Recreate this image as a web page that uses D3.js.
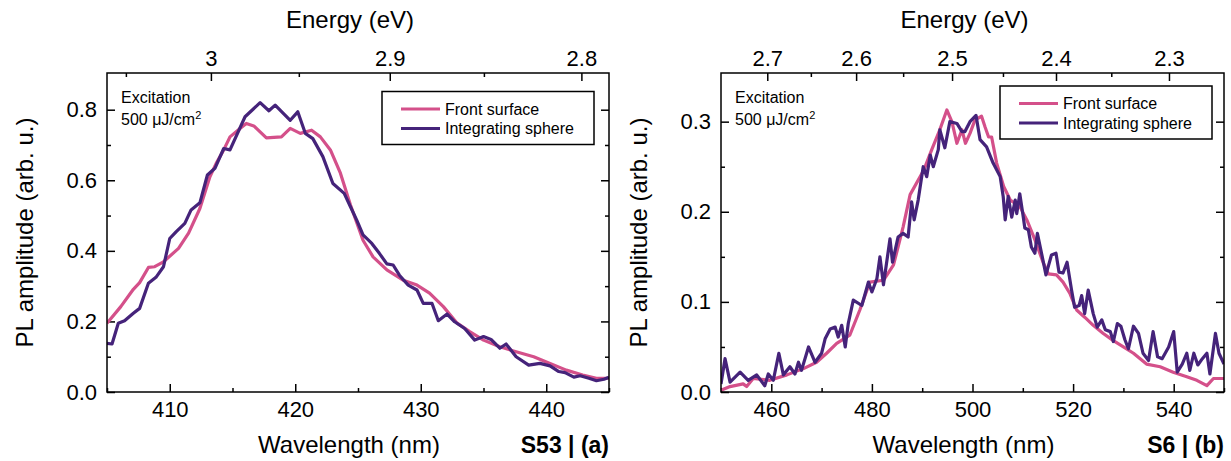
<!DOCTYPE html>
<html>
<head>
<meta charset="utf-8">
<script src="https://cdn.jsdelivr.net/npm/d3@7"></script>
<style>
  body { margin: 0; background: #fff; }
  svg { font-family: "Liberation Sans", Arial, sans-serif; }
  .axis path { display: none; }
  .axis line { stroke: #000; stroke-width: 1.5; }
  .axis text { font-size: 22px; fill: #000; }
</style>
</head>
<body>
<div id="plot_area"></div>
<script>
// ---- panel (a) : S53 ----
const aFrontX = [405, 406.1, 407.1, 407.6, 408.3, 408.8, 409.5, 410.7, 411.5, 412.4, 413.2, 413.7, 414.3, 414.8, 415.6, 416.1, 416.7, 417.7, 418.9, 419.6, 420.4, 421.3, 422, 422.8, 423.6, 424.4, 425.4, 426.2, 427.3, 428.6, 429.7, 430.7, 431.8, 432.9, 433.9, 435, 436.3, 437.6, 439, 440.3, 441.6, 442.9, 444, 445]
const aFrontY = [0.195, 0.242, 0.291, 0.31, 0.353, 0.355, 0.369, 0.407, 0.45, 0.52, 0.61, 0.648, 0.686, 0.723, 0.747, 0.761, 0.754, 0.72, 0.723, 0.747, 0.733, 0.742, 0.723, 0.686, 0.62, 0.53, 0.43, 0.383, 0.346, 0.317, 0.303, 0.28, 0.242, 0.195, 0.171, 0.147, 0.128, 0.114, 0.1, 0.081, 0.062, 0.048, 0.039, 0.039]
const aSphereX = [405, 405.4, 405.9, 406.4, 407.1, 407.6, 408.3, 408.9, 409.5, 410, 410.5, 411.2, 411.7, 412.4, 413, 413.6, 414.3, 414.8, 416, 417.2, 417.9, 418.4, 419.6, 420.2, 420.8, 421.4, 422.2, 423, 423.9, 424.4, 424.9, 425.4, 426.1, 426.7, 427.3, 427.8, 428.3, 429, 429.7, 430.2, 430.9, 431.4, 432.1, 432.7, 433.5, 434.3, 435, 435.6, 436.3, 436.8, 437.6, 438.6, 439.5, 440.3, 441, 441.5, 442.2, 442.7, 443.4, 444, 444.6, 445]
const aSphereY = [0.138, 0.136, 0.195, 0.202, 0.223, 0.237, 0.308, 0.325, 0.355, 0.435, 0.454, 0.478, 0.516, 0.536, 0.615, 0.634, 0.69, 0.686, 0.78, 0.82, 0.797, 0.813, 0.77, 0.794, 0.733, 0.718, 0.667, 0.591, 0.563, 0.525, 0.487, 0.445, 0.421, 0.393, 0.363, 0.36, 0.331, 0.303, 0.289, 0.251, 0.251, 0.202, 0.221, 0.199, 0.18, 0.147, 0.157, 0.149, 0.124, 0.136, 0.1, 0.076, 0.081, 0.074, 0.058, 0.055, 0.042, 0.046, 0.039, 0.032, 0.036, 0.042]
const aXTicks = [410, 420, 430, 440]
const aXMinor = [405, 415, 425, 435, 445]
const aYTicks = [0, 0.2, 0.4, 0.6, 0.8]
const aYMinor = [0.1, 0.3, 0.5, 0.7]
const aETicks = [3, 2.9, 2.8]
const aEMinor = [3.05, 2.95, 2.85]

// ---- panel (b) : S6 ----
const bFrontX = [450, 451.8, 454.4, 455.1, 456.4, 459.7, 463.1, 466.4, 469, 471, 473, 475.6, 477.6, 479.6, 482.3, 484.3, 486.2, 487.6, 490.3, 491.9, 493.5, 494.9, 495.9, 496.9, 497.9, 498.6, 499.5, 500.5, 501.8, 502.5, 503.2, 503.8, 504.8, 506.2, 507.5, 509.4, 510.8, 512.4, 514.1, 515.1, 516.7, 518, 519.4, 520.7, 522.3, 524, 526, 528, 530, 532, 534.6, 537.3, 539.9, 542.6, 544.6, 546.6, 547.9, 550]
const bFrontY = [0.002, 0.006, 0.009, 0.006, 0.015, 0.013, 0.019, 0.026, 0.033, 0.043, 0.054, 0.063, 0.091, 0.122, 0.124, 0.141, 0.183, 0.219, 0.246, 0.269, 0.291, 0.313, 0.3, 0.276, 0.291, 0.276, 0.287, 0.302, 0.306, 0.294, 0.283, 0.283, 0.254, 0.228, 0.213, 0.206, 0.191, 0.169, 0.143, 0.131, 0.13, 0.122, 0.109, 0.091, 0.083, 0.074, 0.065, 0.057, 0.05, 0.043, 0.031, 0.028, 0.022, 0.017, 0.013, 0.007, 0.015, 0.015]
const bSphereX = [450, 450.8, 451.8, 453.8, 455.4, 457.1, 458.7, 459.4, 460.4, 461.5, 462.4, 463.7, 464.7, 465.4, 466, 467.4, 468.7, 470, 470.7, 471.7, 472.7, 473.3, 474, 474.7, 475.3, 476.3, 478, 479.3, 480, 481, 481.6, 482.3, 483.6, 484.1, 485.2, 486.2, 487.2, 487.9, 488.4, 489.2, 490.2, 490.9, 491.6, 492.2, 493.2, 493.5, 494.5, 495.5, 496.9, 497.9, 498.5, 499.5, 500.7, 501.5, 502.8, 504.1, 505.5, 506.1, 506.5, 507.1, 507.8, 508.5, 508.8, 509.4, 510.1, 510.4, 511.1, 511.7, 512.4, 512.9, 513.8, 514.6, 515.7, 516.6, 517.2, 518, 518.8, 519.7, 520.3, 521.2, 521.7, 522.3, 523, 524, 524.8, 525.7, 526.4, 527.4, 528, 528.8, 529.5, 530.3, 531, 532, 533, 533.9, 535, 535.9, 536.8, 537.7, 539, 540, 540.7, 541.7, 542.6, 543.2, 544, 544.8, 545.7, 546.6, 547.2, 548.3, 549, 550]
const bSphereY = [0.009, 0.037, 0.011, 0.022, 0.013, 0.019, 0.007, 0.02, 0.013, 0.043, 0.019, 0.028, 0.02, 0.033, 0.024, 0.05, 0.033, 0.043, 0.059, 0.07, 0.072, 0.061, 0.074, 0.05, 0.076, 0.102, 0.096, 0.122, 0.111, 0.126, 0.15, 0.119, 0.17, 0.144, 0.172, 0.176, 0.172, 0.211, 0.191, 0.213, 0.25, 0.239, 0.263, 0.25, 0.269, 0.291, 0.271, 0.3, 0.298, 0.289, 0.289, 0.3, 0.307, 0.28, 0.272, 0.254, 0.239, 0.217, 0.191, 0.217, 0.194, 0.213, 0.198, 0.22, 0.194, 0.182, 0.18, 0.161, 0.154, 0.176, 0.152, 0.13, 0.152, 0.154, 0.133, 0.132, 0.144, 0.113, 0.094, 0.096, 0.107, 0.087, 0.113, 0.087, 0.072, 0.08, 0.069, 0.067, 0.056, 0.076, 0.073, 0.058, 0.048, 0.073, 0.065, 0.043, 0.035, 0.067, 0.039, 0.037, 0.05, 0.067, 0.022, 0.031, 0.043, 0.024, 0.043, 0.03, 0.037, 0.043, 0.02, 0.065, 0.043, 0.031]
const bXTicks = [460, 480, 500, 520, 540]
const bXMinor = [450, 470, 490, 510, 530, 550]
const bYTicks = [0, 0.1, 0.2, 0.3]
const bYMinor = [0.05, 0.15, 0.25]
const bETicks = [2.7, 2.6, 2.5, 2.4, 2.3]
const bEMinor = [2.75, 2.65, 2.55, 2.45, 2.35]

const seriesNames = ['Front surface', 'Integrating sphere']
const colors = ['#d4508a', '#45237a']
const hc = 1239.84  // eV*nm

const svgWidth = 1231, svgHeight = 461

const svg = d3.select('#plot_area').append('svg')
    .attr('width', svgWidth)
    .attr('height', svgHeight)

function drawPanel(p) {
    const w = p.right - p.left, h = p.bottom - p.top
    const g = svg.append('g').attr('transform', `translate(${p.left}, ${p.top})`)

    const x = d3.scaleLinear().domain(p.xDomain).range([0, w])
    const y = d3.scaleLinear().domain(p.yDomain).range([h, 0])
    const fmtE = e => d3.format('')(+e.toFixed(2))

    // bottom wavelength axis
    g.append('g').attr('class', 'axis').attr('transform', `translate(0, ${h})`)
        .call(d3.axisBottom(x).tickValues(p.xTicks).tickSize(-8).tickPadding(9).tickFormat(d3.format('d')))
    g.append('g').attr('class', 'axis').attr('transform', `translate(0, ${h})`)
        .call(d3.axisBottom(x).tickValues(p.xMinor).tickSize(-4).tickFormat(''))

    // top energy axis
    g.append('g').attr('class', 'axis')
        .call(d3.axisTop(x).tickValues(p.eTicks.map(e => hc / e)).tickSize(-8).tickPadding(7)
            .tickFormat(v => fmtE(hc / v)))
    g.append('g').attr('class', 'axis')
        .call(d3.axisTop(x).tickValues(p.eMinor.map(e => hc / e).filter(v => v > p.xDomain[0] + 1 && v < p.xDomain[1])).tickSize(-4).tickFormat(''))

    // left and right y axes
    g.append('g').attr('class', 'axis')
        .call(d3.axisLeft(y).tickValues(p.yTicks).tickSize(-8).tickPadding(10).tickFormat(d3.format('.1f')))
    g.append('g').attr('class', 'axis')
        .call(d3.axisLeft(y).tickValues(p.yMinor).tickSize(-4).tickFormat(''))
    g.append('g').attr('class', 'axis').attr('transform', `translate(${w}, 0)`)
        .call(d3.axisRight(y).tickValues(p.yTicks).tickSize(-8).tickFormat(''))
    g.append('g').attr('class', 'axis').attr('transform', `translate(${w}, 0)`)
        .call(d3.axisRight(y).tickValues(p.yMinor).tickSize(-4).tickFormat(''))

    // clipped lines
    const clipId = 'clip-' + p.key
    g.append('clipPath').attr('id', clipId).append('rect')
        .attr('width', w).attr('height', h)

    const line = d3.line().x(d => x(d[0])).y(d => y(d[1]))
    p.series.forEach((s, i) => {
        g.append('path')
            .datum(s.xs.map((v, j) => [v, s.ys[j]]))
            .attr('clip-path', `url(#${clipId})`)
            .attr('fill', 'none')
            .attr('stroke', colors[i])
            .attr('stroke-width', 3.2)
            .attr('stroke-linejoin', 'round')
            .attr('d', line)
    })

    // frame
    g.append('rect').attr('width', w).attr('height', h)
        .attr('fill', 'none').attr('stroke', '#000').attr('stroke-width', 1.5)

    // legend
    const lg = g.append('g').attr('transform', `translate(${p.legend[0]}, ${p.legend[1]})`)
    lg.append('rect').attr('width', 212).attr('height', 53)
        .attr('fill', '#fff').attr('stroke', '#000').attr('stroke-width', 1.5)
    seriesNames.forEach((n, i) => {
        const yy = 17.5 + i * 19.5
        lg.append('line').attr('x1', 19).attr('x2', 58).attr('y1', yy).attr('y2', yy)
            .attr('stroke', colors[i]).attr('stroke-width', 3.2)
        lg.append('text').attr('x', 63).attr('y', yy + 5.5)
            .attr('font-size', 16).text(n)
    })

    // excitation note
    const ex = g.append('g').attr('transform', `translate(${p.note[0]}, ${p.note[1]})`)
    ex.append('text').attr('font-size', 16).text('Excitation')
    const t2 = ex.append('text').attr('y', 21.5).attr('font-size', 16)
    t2.append('tspan').text('500 \u03bcJ/cm')
    t2.append('tspan').attr('dy', -6).attr('font-size', 11).text('2')

    // axis titles
    g.append('text').attr('x', w / 2 - 8).attr('y', -45)
        .attr('text-anchor', 'middle').attr('font-size', 24).text('Energy (eV)')
    g.append('text').attr('x', w / 2 - 9).attr('y', h + 61)
        .attr('text-anchor', 'middle').attr('font-size', 24).text('Wavelength (nm)')
    g.append('text').attr('transform', `translate(${p.yTitleX - p.left}, ${h / 2}) rotate(-90)`)
        .attr('text-anchor', 'middle').attr('font-size', 24).text('PL amplitude (arb. u.)')

    // panel tag
    g.append('text').attr('x', w).attr('y', h + 61)
        .attr('text-anchor', 'end').attr('font-size', 23).attr('font-weight', 'bold')
        .text(p.tag)
}

drawPanel({
    key: 'a', left: 107, right: 609, top: 73, bottom: 392,
    xDomain: [405, 445], yDomain: [0, 0.904],
    xTicks: aXTicks, xMinor: aXMinor, yTicks: aYTicks, yMinor: aYMinor,
    eTicks: aETicks, eMinor: aEMinor,
    series: [{ xs: aFrontX, ys: aFrontY }, { xs: aSphereX, ys: aSphereY }],
    legend: [275, 18.5], note: [14, 30], yTitleX: 33, tag: 'S53 | (a)'
})

drawPanel({
    key: 'b', left: 721, right: 1224, top: 73, bottom: 392,
    xDomain: [450, 550], yDomain: [0, 0.354],
    xTicks: bXTicks, xMinor: bXMinor, yTicks: bYTicks, yMinor: bYMinor,
    eTicks: bETicks, eMinor: bEMinor,
    series: [{ xs: bFrontX, ys: bFrontY }, { xs: bSphereX, ys: bSphereY }],
    legend: [279, 13], note: [14, 30], yTitleX: 647, tag: 'S6 | (b)'
})
</script>
</body>
</html>
